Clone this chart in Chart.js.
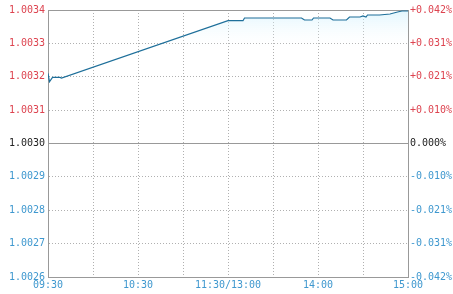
<!DOCTYPE html>
<html>
<head>
<meta charset="utf-8">
<script src="https://cdn.jsdelivr.net/npm/chart.js@4/dist/chart.umd.min.js"></script>
<style>
  html, body { margin: 0; padding: 0; background: #fff; }
  #wrap { width: 453px; height: 294px; }
</style>
</head>
<body>
<div id="wrap"><canvas id="myChart" width="453" height="294"></canvas></div>
<script>
// minutes from 09:30 (13:00 counts as 120, lunch break skipped)
const minutes = [0, 1, 3, 8, 9, 120, 130, 131, 169, 171, 176, 177, 188, 190, 199, 201, 208, 210, 212, 213, 221, 228, 233, 236, 240];
const values = [1.00321, 1.003185, 1.003198, 1.003198, 1.003196, 1.003368, 1.003368, 1.003376, 1.003376, 1.00337, 1.00337, 1.003376, 1.003376, 1.00337, 1.00337, 1.003379, 1.003379, 1.003382, 1.003379, 1.003385, 1.003385, 1.003388, 1.003394, 1.003397, 1.003397];

const leftTicks = ["1.0026", "1.0027", "1.0028", "1.0029", "1.0030", "1.0031", "1.0032", "1.0033", "1.0034"];
const rightTicks = ["-0.042%", "-0.031%", "-0.021%", "-0.010%", "0.000%", "+0.010%", "+0.021%", "+0.031%", "+0.042%"];
const timeTicks = {0: "09:30", 60: "10:30", 120: "11:30/13:00", 180: "14:00", 240: "15:00"};

const RED = "#dd4450", BLUE = "#3f98cf", MID = "#222";
function tickColor(i) { return i > 4 ? RED : (i < 4 ? BLUE : MID); }

const ctx = document.getElementById("myChart");
new Chart(ctx, {
  type: "line",
  data: {
    datasets: [{
      data: minutes.map((m, i) => ({x: m, y: values[i]})),
      borderColor: "#1e6f9a",
      borderWidth: 1.2,
      pointRadius: 0,
      tension: 0,
      fill: "start",
      backgroundColor: (c) => {
        const a = c.chart.chartArea;
        if (!a) return "rgba(0,0,0,0)";
        const g = c.chart.ctx.createLinearGradient(0, a.top, 0, a.top + 40);
        g.addColorStop(0, "rgba(200,238,252,0.55)");
        g.addColorStop(1, "rgba(255,255,255,0)");
        return g;
      }
    }]
  },
  options: {
    responsive: false,
    animation: false,
    layout: {padding: {top: 10, left: 0, right: 0, bottom: 0}},
    plugins: {legend: {display: false}, tooltip: {enabled: false}},
    scales: {
      x: {
        type: "linear", min: 0, max: 240,
        afterFit: (s) => { s.height = 17; },
        ticks: {
          stepSize: 30, autoSkip: false, maxRotation: 0, padding: 2,
          color: BLUE, font: {family: "DejaVu Sans Mono", size: 10},
          callback: (v) => timeTicks[v] !== undefined ? timeTicks[v] : ""
        },
        grid: {
          drawTicks: false,
          color: (c) => (c.index === 0 || c.index === 8) ? "rgba(0,0,0,0)" : "#b0b0b0"
        },
        border: {display: true, color: "#999", dash: [1, 2]}
      },
      y: {
        position: "left", min: 1.0026, max: 1.0034,
        afterFit: (s) => { s.width = 48; },
        afterBuildTicks: (s) => { s.ticks = leftTicks.map(t => ({value: parseFloat(t)})); },
        ticks: {
          padding: 3,
          color: (c) => tickColor(c.index),
          font: {family: "DejaVu Sans Mono", size: 10},
          callback: (v, i) => leftTicks[i]
        },
        grid: {
          drawTicks: false,
          color: (c) => (c.index === 0 || c.index === 4 || c.index === 8) ? "rgba(0,0,0,0)" : "#b0b0b0"
        },
        border: {display: true, color: "#999", dash: [1, 2]}
      },
      y2: {
        position: "right", min: 1.0026, max: 1.0034,
        afterFit: (s) => { s.width = 45; },
        afterBuildTicks: (s) => { s.ticks = leftTicks.map(t => ({value: parseFloat(t)})); },
        ticks: {
          padding: 2,
          color: (c) => tickColor(c.index),
          font: {family: "DejaVu Sans Mono", size: 10},
          callback: (v, i) => rightTicks[i]
        },
        grid: {
          drawTicks: false,
          color: (c) => (c.index === 0 || c.index === 4 || c.index === 8) ? "#999" : "rgba(0,0,0,0)"
        },
        border: {display: true, color: "#999"}
      }
    }
  }
});
</script>
</body>
</html>
